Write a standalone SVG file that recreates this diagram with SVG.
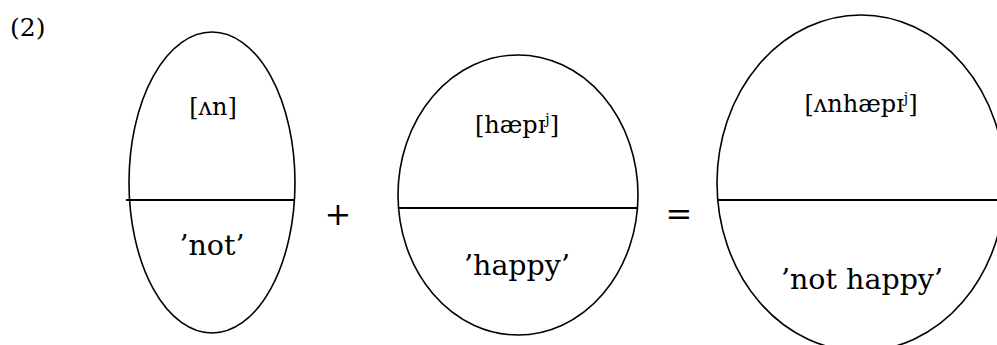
<svg xmlns="http://www.w3.org/2000/svg" width="997" height="345" viewBox="0 0 997 345">
<style>
.sign{fill:#fff;stroke:#000;stroke-width:1.6}
.bar{stroke:#000;stroke-width:2}
text{font-family:"DejaVu Serif",serif;fill:#000}
.form{font-size:24px;text-anchor:middle}
.mean{font-size:28.5px;text-anchor:middle}
.op{font-size:32px;text-anchor:middle}
.sup{font-size:14px}
</style>
<rect width="997" height="345" fill="#fff"/>
<text x="10" y="36" font-size="25">(2)</text>
<g id="sign-un">
<ellipse class="sign" cx="212" cy="182.5" rx="83" ry="150.5"/>
<line class="bar" x1="126" y1="200" x2="295" y2="200"/>
<text class="form" x="213" y="115">[ʌn]</text>
<text class="mean" x="212" y="255">’not’</text>
</g>
<g id="plus"><text class="op" x="338" y="225">+</text></g>
<g id="sign-happy">
<ellipse class="sign" cx="518" cy="195" rx="120" ry="140"/>
<line class="bar" x1="398" y1="208" x2="638" y2="208"/>
<text class="form" x="517" y="133">[hæpɪ<tspan class="sup" dy="-9">j</tspan><tspan dy="9">]</tspan></text>
<text class="mean" x="517" y="275">’happy’</text>
</g>
<g id="equals"><text class="op" x="679" y="225">=</text></g>
<g id="sign-unhappy">
<ellipse class="sign" cx="861" cy="183" rx="144" ry="168"/>
<line class="bar" x1="717" y1="200" x2="997" y2="200"/>
<text class="form" x="861" y="112">[ʌnhæpɪ<tspan class="sup" dy="-9">j</tspan><tspan dy="9">]</tspan></text>
<text class="mean" x="862" y="289">’not happy’</text>
</g>
<g id="connectors"></g>
</svg>
